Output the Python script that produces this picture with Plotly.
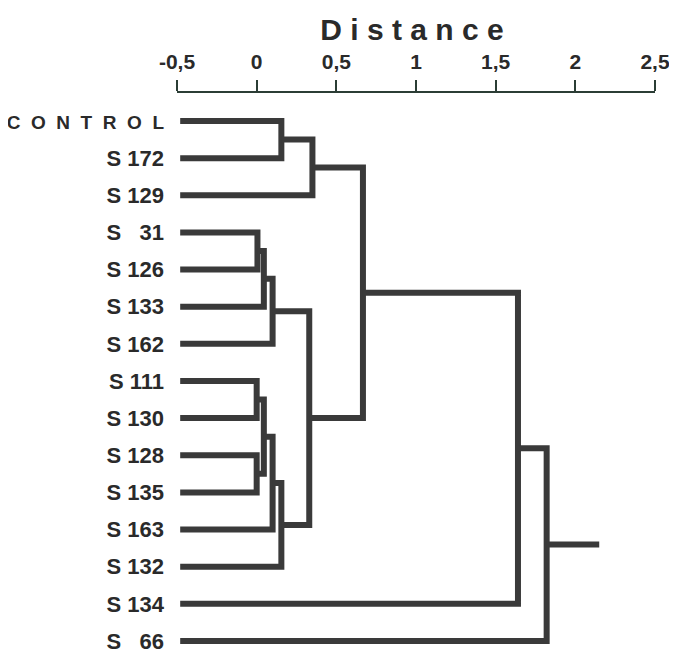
import plotly.graph_objects as go

# ---- data ----
labels = ["CONTROL", "S 172", "S 129", "S\u00a0\u00a0\u00a031", "S 126", "S 133", "S 162",
          "S 111", "S 130", "S 128", "S 135", "S 163", "S 132", "S 134", "S\u00a0\u00a0\u00a066"]
# merges: (child A, child B, distance); new node ids continue after the leaves
merge_a = [0, 15, 3, 17, 18, 7, 9, 20, 22, 23, 19, 16, 26, 27]
merge_b = [1, 2, 4, 5, 6, 8, 10, 21, 11, 12, 24, 25, 13, 14]
merge_h = [0.155, 0.35, 0.005, 0.045, 0.10, 0.0, 0.0, 0.045, 0.10, 0.155, 0.33, 0.667, 1.64, 1.82]
leaf_base = -0.48
root_end = 2.15
tick_vals = [-0.5, 0, 0.5, 1, 1.5, 2, 2.5]
tick_text = ["-0,5", "0", "0,5", "1", "1,5", "2", "2,5"]

# ---- build dendrogram path ----
n = len(labels)
ny = {i: float(i) for i in range(n)}
nx = {i: leaf_base for i in range(n)}
px, py = [], []
for k, (a, b, h) in enumerate(zip(merge_a, merge_b, merge_h)):
    px += [nx[a], h, h, nx[b], None]
    py += [ny[a], ny[a], ny[b], ny[b], None]
    node = n + k
    ny[node] = (ny[a] + ny[b]) / 2
    nx[node] = h
root = n + len(merge_h) - 1
px += [nx[root], root_end]
py += [ny[root], ny[root]]

line_col = "#3a3a3a"
fig = go.Figure(go.Scatter(x=px, y=py, mode="lines",
                           line=dict(color=line_col, width=6),
                           hoverinfo="skip", showlegend=False, cliponaxis=False))

ticktext_y = []
for lab in labels:
    if lab == "CONTROL":
        ticktext_y.append('<span style="font-size:19px">' + "\u00a0\u00a0".join(list(lab)) + "</span>")
    else:
        ticktext_y.append(lab)

# the page body adds an 8px offset, so the figure is 8px smaller than the window
OFF = 8
W, H = 677 - OFF, 653 - OFF
FONT = "Liberation Sans, Arial, sans-serif"
fig.update_layout(
    width=W, height=H,
    margin=dict(l=177 - OFF, r=22, t=93 - OFF, b=5, autoexpand=False),
    paper_bgcolor="white", plot_bgcolor="white",
    title=dict(text="D i s t a n c e", x=(412 - OFF) / W, xanchor="center",
               y=1 - (29 - OFF) / H, yanchor="middle",
               font=dict(family=FONT, size=30, color="#2a2a2a", weight=700)),
    xaxis=dict(side="top", range=[-0.5, 2.5], tickvals=tick_vals, ticktext=tick_text,
               ticks="outside", ticklen=11, tickwidth=2, tickcolor="#2b3d35",
               showline=True, linewidth=2, linecolor="#2b3d35", automargin=False,
               showgrid=False, zeroline=False, ticklabelstandoff=3,
               tickfont=dict(family=FONT, size=21, color="#2a2a2a", weight=700)),
    yaxis=dict(range=[14.19, -0.754], tickvals=list(range(n)), ticktext=ticktext_y,
               showline=False, showgrid=False, zeroline=False, ticks="",
               ticklabelstandoff=12, automargin=False, ticklabeloverflow="allow",
               tickfont=dict(family=FONT, size=22, color="#2a2a2a", weight=700)),
)

fig.write_html("out.html")
